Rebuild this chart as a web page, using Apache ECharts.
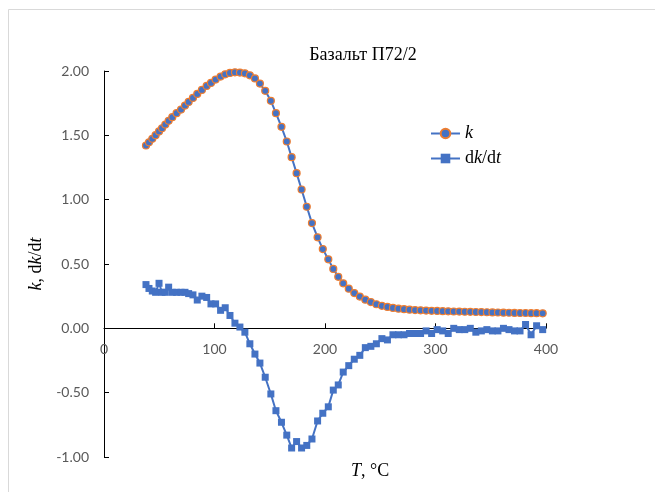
<!DOCTYPE html>
<html>
<head>
<meta charset="utf-8">
<script src="https://cdn.jsdelivr.net/npm/echarts@6/dist/echarts.min.js"></script>
<style>html,body{margin:0;padding:0;background:#fff;}#c{width:655px;height:492px;}</style>
</head>
<body>
<div id="c"></div>
<script>
const titleText = 'Базальт П72/2';
const xTicks = [0, 100, 200, 300, 400];
const yTicks = [-1, -0.5, 0, 0.5, 1, 1.5, 2];

const temps = [38, 40.7, 43.7, 46.7, 49.8, 52.5, 55.5, 58.5, 61.8, 65.7, 69.7, 73.3, 76.6, 80.5, 84.4, 88.6, 92.9, 96.8, 101, 105.5, 109.7, 114, 118.5, 123, 127.5, 132, 136.6, 141.1, 145.9, 151, 155.6, 160.6, 165.4, 169.8, 174.3, 178.8, 183.5, 188.2, 193.3, 198, 203, 207.5, 212, 216.5, 221.5, 226.5, 231.5, 236.5, 241.5, 246.5, 251.5, 256.5, 261.5, 266.5, 271.5, 276.5, 281.5, 286.5, 291.5, 296.5, 301.5, 306.5, 311.5, 316.5, 321.5, 326.5, 331.5, 336.5, 341.5, 346.5, 351.5, 356.5, 361.5, 366.5, 371.5, 376.5, 381.5, 386.5, 391.5, 397];

const kValues = [1.421, 1.446, 1.473, 1.501, 1.530, 1.555, 1.584, 1.613, 1.641, 1.672, 1.700, 1.731, 1.760, 1.791, 1.822, 1.853, 1.884, 1.907, 1.933, 1.957, 1.974, 1.985, 1.990, 1.988, 1.982, 1.966, 1.942, 1.902, 1.846, 1.768, 1.672, 1.566, 1.452, 1.330, 1.206, 1.079, 0.945, 0.818, 0.707, 0.616, 0.536, 0.462, 0.400, 0.350, 0.308, 0.274, 0.247, 0.223, 0.204, 0.187, 0.175, 0.166, 0.159, 0.153, 0.149, 0.145, 0.142, 0.140, 0.138, 0.136, 0.135, 0.133, 0.132, 0.131, 0.130, 0.129, 0.128, 0.127, 0.126, 0.125, 0.124, 0.123, 0.122, 0.121, 0.120, 0.119, 0.119, 0.118, 0.118, 0.117];

const dkdtValues = [0.34, 0.31, 0.29, 0.28, 0.35, 0.28, 0.28, 0.32, 0.28, 0.28, 0.28, 0.28, 0.27, 0.26, 0.22, 0.25, 0.24, 0.19, 0.19, 0.14, 0.16, 0.10, 0.04, 0.01, -0.03, -0.12, -0.20, -0.27, -0.38, -0.51, -0.64, -0.73, -0.83, -0.93, -0.88, -0.93, -0.91, -0.86, -0.72, -0.66, -0.61, -0.48, -0.44, -0.34, -0.29, -0.24, -0.21, -0.15, -0.14, -0.12, -0.08, -0.09, -0.05, -0.05, -0.05, -0.04, -0.04, -0.04, -0.02, -0.04, -0.01, -0.02, -0.04, 0.00, -0.01, -0.01, 0.00, -0.03, -0.02, -0.01, -0.02, -0.02, 0.00, -0.01, -0.02, -0.02, 0.03, -0.05, 0.02, -0.01];

const seriesNames = ['k', 'dk/dt'];

const serif = '"Liberation Serif", "DejaVu Serif", serif';
const sans = 'Lato, "Open Sans", "Noto Sans", sans-serif';
const blue = '#4472C4';
const orange = '#ED7D31';

const chart = echarts.init(document.getElementById('c'), null, {renderer: 'canvas'});
const richSerif = {
  i: {fontFamily: serif, fontStyle: 'italic', fontSize: 18, color: '#000'},
  r: {fontFamily: serif, fontSize: 18, color: '#000'}
};
chart.setOption({
  animation: false,
  backgroundColor: '#fff',
  title: {
    text: titleText, left: 358, top: 41, textAlign: 'center',
    textStyle: {fontFamily: serif, fontSize: 18, fontWeight: 'normal', color: '#000'}
  },
  legend: {
    orient: 'vertical', left: 425, top: 119, itemGap: 6, itemWidth: 29, itemHeight: 12,
    data: seriesNames,
    formatter: function (n) { return n === 'k' ? '{i|k}' : '{r|d}{i|k}{r|/d}{i|t}'; },
    textStyle: {rich: richSerif, lineHeight: 19, padding: [0, 0, 0, 0]}
  },
  grid: {left: 104, right: 109, top: 71, bottom: 35, containLabel: false},
  xAxis: {
    type: 'value', min: xTicks[0], max: xTicks[xTicks.length - 1], interval: 100,
    offset: -128.7,
    axisLine: {onZero: false, lineStyle: {color: '#000', width: 1}},
    axisTick: {inside: true, length: 5, lineStyle: {color: '#000'}},
    axisLabel: {margin: 14, color: '#595959', fontFamily: sans, fontSize: 14},
    splitLine: {show: false}
  },
  yAxis: {
    type: 'value', min: yTicks[0], max: yTicks[yTicks.length - 1], interval: 0.5,
    axisLine: {show: true, lineStyle: {color: '#000', width: 1}},
    axisTick: {show: true, inside: true, length: 5, lineStyle: {color: '#000'}},
    axisLabel: {margin: 15, color: '#595959', fontFamily: sans, fontSize: 14,
      formatter: function (v) { return v.toFixed(2); }},
    splitLine: {show: false},
    name: '{i|k}{r|, d}{i|k}{r|/d}{i|t}', nameLocation: 'middle', nameRotate: 90, nameGap: 56,
    nameTextStyle: {rich: richSerif}
  },
  graphic: [
    {type: 'rect', silent: true, shape: {x: 8.5, y: 9.5, width: 700, height: 600},
     style: {fill: 'none', stroke: '#d9d9d9', lineWidth: 1}},
    {type: 'text', left: 351, top: 462,
     style: {text: '{i|T}{r|, °C}', rich: richSerif}}
  ],
  series: [
    {
      name: seriesNames[0], type: 'line',
      data: temps.map((t, i) => [t, kValues[i]]),
      symbol: 'circle', symbolSize: 7,
      lineStyle: {color: blue, width: 2},
      itemStyle: {color: blue, borderColor: orange, borderWidth: 1.2},
      z: 3
    },
    {
      name: seriesNames[1], type: 'line',
      data: temps.map((t, i) => [t, dkdtValues[i]]),
      symbol: 'rect', symbolSize: 7,
      lineStyle: {color: blue, width: 2},
      itemStyle: {color: blue, borderColor: blue, borderWidth: 0},
      z: 2
    }
  ]
});
</script>
</body>
</html>
